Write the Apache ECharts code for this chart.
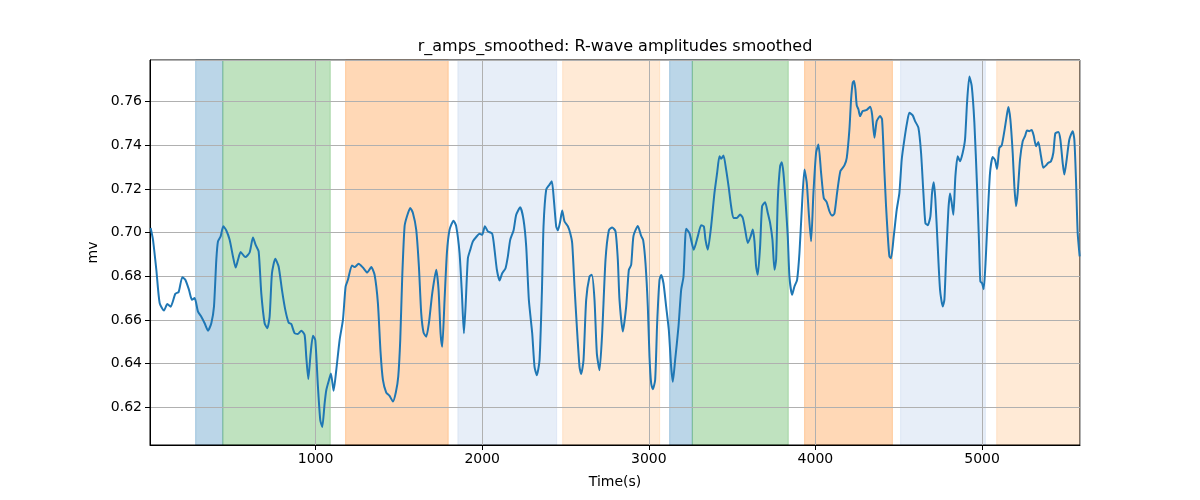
<!DOCTYPE html>
<html>
<head>
<meta charset="utf-8">
<script src="https://cdn.jsdelivr.net/npm/echarts@6/dist/echarts.min.js"></script>
<style>
html,body{margin:0;padding:0;background:#fff;}
#chart{width:1200px;height:500px;}
</style>
</head>
<body>
<div id="chart"></div>
<script>
// ---- data ----
var times = [10,24,44,64,90,110,130,158,178,200,218,240,258,274,294,314,334,354,374,390,404,414,430,446,464,484,504,520,534,550,578,604,624,640,658,674,694,710,724,738,758,778,798,818,838,854,874,894,914,934,944,956,970,984,998,1014,1028,1040,1054,1064,1080,1092,1108,1124,1144,1164,1180,1194,1218,1234,1258,1284,1310,1334,1354,1374,1390,1404,1424,1444,1464,1482,1496,1508,1520,1534,1548,1568,1584,1604,1620,1634,1648,1664,1680,1700,1724,1738,1750,1760,1774,1788,1804,1828,1844,1864,1878,1890,1900,1914,1928,1944,1964,1984,2000,2016,2034,2060,2074,2088,2104,2120,2140,2154,2168,2188,2204,2228,2248,2264,2280,2300,2314,2328,2344,2358,2368,2384,2404,2418,2430,2444,2454,2468,2480,2494,2514,2528,2540,2554,2568,2584,2594,2608,2624,2644,2658,2674,2688,2704,2720,2740,2760,2780,2800,2814,2824,2844,2864,2880,2894,2908,2934,2954,2966,2980,2994,3004,3014,3024,3038,3050,3064,3074,3088,3104,3120,3134,3144,3158,3178,3194,3208,3218,3224,3244,3270,3294,3314,3330,3340,3354,3374,3394,3410,3424,3434,3448,3464,3480,3494,3508,3528,3548,3564,3578,3594,3610,3624,3634,3644,3654,3668,3680,3698,3714,3728,3742,3754,3764,3774,3788,3798,3808,3820,3834,3844,3860,3874,3890,3904,3918,3934,3948,3960,3974,3988,4004,4018,4034,4050,4068,4084,4100,4114,4130,4150,4174,4188,4204,4214,4224,4232,4240,4248,4258,4268,4284,4308,4328,4340,4354,4368,4388,4400,4414,4424,4434,4444,4454,4470,4488,4504,4518,4534,4550,4564,4584,4598,4618,4634,4648,4660,4674,4690,4700,4710,4720,4734,4748,4764,4774,4784,4798,4808,4818,4828,4840,4854,4868,4884,4898,4910,4924,4938,4954,4970,4982,4990,5000,5010,5022,5034,5048,5064,5078,5090,5104,5118,5134,5148,5158,5170,5184,5194,5204,5214,5228,5244,5258,5270,5284,5298,5310,5324,5338,5354,5368,5384,5398,5414,5428,5440,5458,5470,5484,5494,5508,5524,5544,5554,5564,5574,5586];
var amps = [0.7021,0.6967,0.683,0.6677,0.6643,0.6673,0.6661,0.672,0.6728,0.6796,0.6784,0.6738,0.6692,0.670,0.6638,0.6615,0.6585,0.6551,0.6585,0.6661,0.6875,0.696,0.6983,0.7029,0.701,0.6967,0.6891,0.684,0.6875,0.6911,0.6888,0.6909,0.6978,0.6944,0.6914,0.6722,0.6585,0.6562,0.6615,0.6814,0.688,0.6845,0.6738,0.6646,0.6588,0.6581,0.6539,0.6536,0.6551,0.6531,0.6431,0.6329,0.6446,0.6528,0.6508,0.6294,0.6141,0.611,0.6217,0.6278,0.6324,0.6355,0.6275,0.637,0.6508,0.66,0.6753,0.6784,0.685,0.6842,0.6857,0.684,0.6817,0.6842,0.6807,0.6676,0.645,0.6325,0.6267,0.6252,0.6226,0.627,0.634,0.6508,0.6799,0.7029,0.7074,0.7113,0.709,0.7013,0.6845,0.663,0.6542,0.6523,0.6585,0.6722,0.683,0.6738,0.6539,0.6477,0.6692,0.6906,0.7013,0.7055,0.7029,0.6906,0.6722,0.6539,0.6661,0.6883,0.6921,0.696,0.698,0.6995,0.699,0.7029,0.7006,0.6995,0.6921,0.683,0.6781,0.6814,0.6837,0.6891,0.6967,0.701,0.7082,0.7116,0.7059,0.6937,0.6692,0.6539,0.6385,0.6347,0.6416,0.6722,0.7029,0.7197,0.722,0.7235,0.7151,0.7029,0.701,0.7051,0.7102,0.7051,0.7029,0.6998,0.6952,0.6753,0.6569,0.6385,0.6352,0.6416,0.6692,0.6799,0.6807,0.6692,0.6447,0.637,0.6539,0.6875,0.701,0.7024,0.7006,0.6875,0.6692,0.6547,0.6661,0.6829,0.6852,0.6985,0.703,0.6985,0.6966,0.686,0.6661,0.6432,0.631,0.6282,0.6325,0.6585,0.6783,0.6806,0.6768,0.6661,0.6554,0.6386,0.6317,0.6417,0.6569,0.6737,0.6798,0.6966,0.7018,0.6998,0.6922,0.6983,0.7034,0.7029,0.6968,0.6922,0.7029,0.7182,0.7274,0.735,0.7338,0.7354,0.7289,0.7205,0.7121,0.7067,0.7067,0.7083,0.7067,0.7014,0.6952,0.698,0.7014,0.6961,0.6845,0.6807,0.6937,0.7121,0.7139,0.709,0.7044,0.6968,0.683,0.6876,0.7151,0.7305,0.7323,0.7274,0.7151,0.6983,0.6799,0.6715,0.6753,0.6784,0.6906,0.7105,0.7289,0.7228,0.709,0.696,0.7182,0.7366,0.7404,0.7274,0.7159,0.7139,0.7098,0.7078,0.7087,0.7182,0.7282,0.7308,0.7343,0.7473,0.7611,0.7687,0.7695,0.7656,0.7583,0.7565,0.7534,0.7557,0.7562,0.7577,0.7542,0.7435,0.7511,0.7534,0.7519,0.728,0.712,0.699,0.6891,0.6883,0.6983,0.7105,0.7182,0.7335,0.7427,0.7504,0.7549,0.7537,0.7511,0.7481,0.7366,0.7182,0.7044,0.7034,0.7075,0.7182,0.7231,0.7151,0.6937,0.6738,0.6662,0.6692,0.6876,0.7105,0.7179,0.7136,0.7082,0.7258,0.735,0.7327,0.7366,0.7427,0.7595,0.7715,0.7672,0.7504,0.7213,0.6953,0.6776,0.6769,0.6741,0.6876,0.7075,0.7274,0.7347,0.7332,0.7292,0.7389,0.7399,0.7465,0.7534,0.7576,0.7519,0.7366,0.7213,0.7121,0.7182,0.7335,0.7419,0.7442,0.7468,0.7465,0.747,0.7445,0.7396,0.7415,0.735,0.7297,0.7308,0.732,0.7327,0.7366,0.7455,0.7461,0.7427,0.732,0.7266,0.7335,0.7427,0.7465,0.7427,0.7243,0.6998,0.6891];

var bandStarts = [280, 443, 1180, 1854, 2483, 3125, 3261, 3935, 4511, 5088];
var bandEnds   = [443, 1088, 1796, 2447, 3065, 3261, 3837, 4462, 5020, 5588];
var bandKinds  = [0, 1, 2, 3, 4, 0, 1, 2, 3, 4];

var xMin = 6, xMax = 5588;
var yMin = 0.6027, yMax = 0.7791;
var titleText = 'r_amps_smoothed: R-wave amplitudes smoothed';
var xName = 'Time(s)';
var yName = 'mv';

// ---- build ----
var kindColors = ['rgba(31,119,180,0.3)','rgba(44,160,44,0.3)','rgba(255,127,14,0.3)','rgba(174,199,232,0.3)','rgba(255,187,120,0.3)'];
var lineData = times.map(function(t,i){ return [t, amps[i]]; });
var areas = bandStarts.map(function(s,i){
  var c = kindColors[bandKinds[i]];
  return [{xAxis: s, itemStyle:{color:c, borderColor:c, borderWidth:1}}, {xAxis: bandEnds[i]}];
});

var font = 'DejaVu Sans';
var chart = echarts.init(document.getElementById('chart'), null, {renderer:'canvas'});
chart.setOption({
  animation: false,
  backgroundColor: '#fff',
  title: {
    text: titleText, left: 615, top: 39, textAlign: 'center', padding: 0,
    textStyle: {fontFamily: font, fontSize: 16, fontWeight: 'normal', color: '#000'}
  },
  grid: {left: 150, right: 120, top: 60, bottom: 55, show: true, borderColor: '#000', borderWidth: 1, backgroundColor: 'transparent', z: 0},
  xAxis: {
    type: 'value', min: xMin, max: xMax, minInterval: 1000, maxInterval: 1000, z: 1,
    name: xName, nameLocation: 'middle', nameGap: 30,
    nameTextStyle: {fontFamily: font, fontSize: 14, color: '#000'},
    axisLine: {show: true, onZero: false, lineStyle: {color: '#000', width: 1}},
    axisTick: {show: true, inside: false, length: 5, lineStyle: {color: '#000'}},
    axisLabel: {fontFamily: font, fontSize: 14, color: '#000', margin: 7, showMinLabel: false, showMaxLabel: false,
      formatter: function(v){ return String(Math.round(v)); }},
    splitLine: {show: true, lineStyle: {color: '#b0b0b0', width: 1}}
  },
  yAxis: {
    type: 'value', min: yMin, max: yMax, minInterval: 0.02, maxInterval: 0.02, z: 1,
    name: yName, nameLocation: 'middle', nameGap: 46, nameRotate: 90,
    nameTextStyle: {fontFamily: font, fontSize: 14, color: '#000'},
    axisLine: {show: true, onZero: false, lineStyle: {color: '#000', width: 1}},
    axisTick: {show: true, inside: false, length: 5, lineStyle: {color: '#000'}},
    axisLabel: {fontFamily: font, fontSize: 14, color: '#000', margin: 8, showMinLabel: false, showMaxLabel: false,
      formatter: function(v){ return v.toFixed(2); }},
    splitLine: {show: true, lineStyle: {color: '#b0b0b0', width: 1}}
  },
  series: [{
    type: 'line', data: lineData, showSymbol: false, symbol: 'none', smooth: 0.2,
    lineStyle: {color: '#1f77b4', width: 2},
    z: 3,
    markArea: {silent: true, z: -1, data: areas}
  }]
});
</script>
</body>
</html>
